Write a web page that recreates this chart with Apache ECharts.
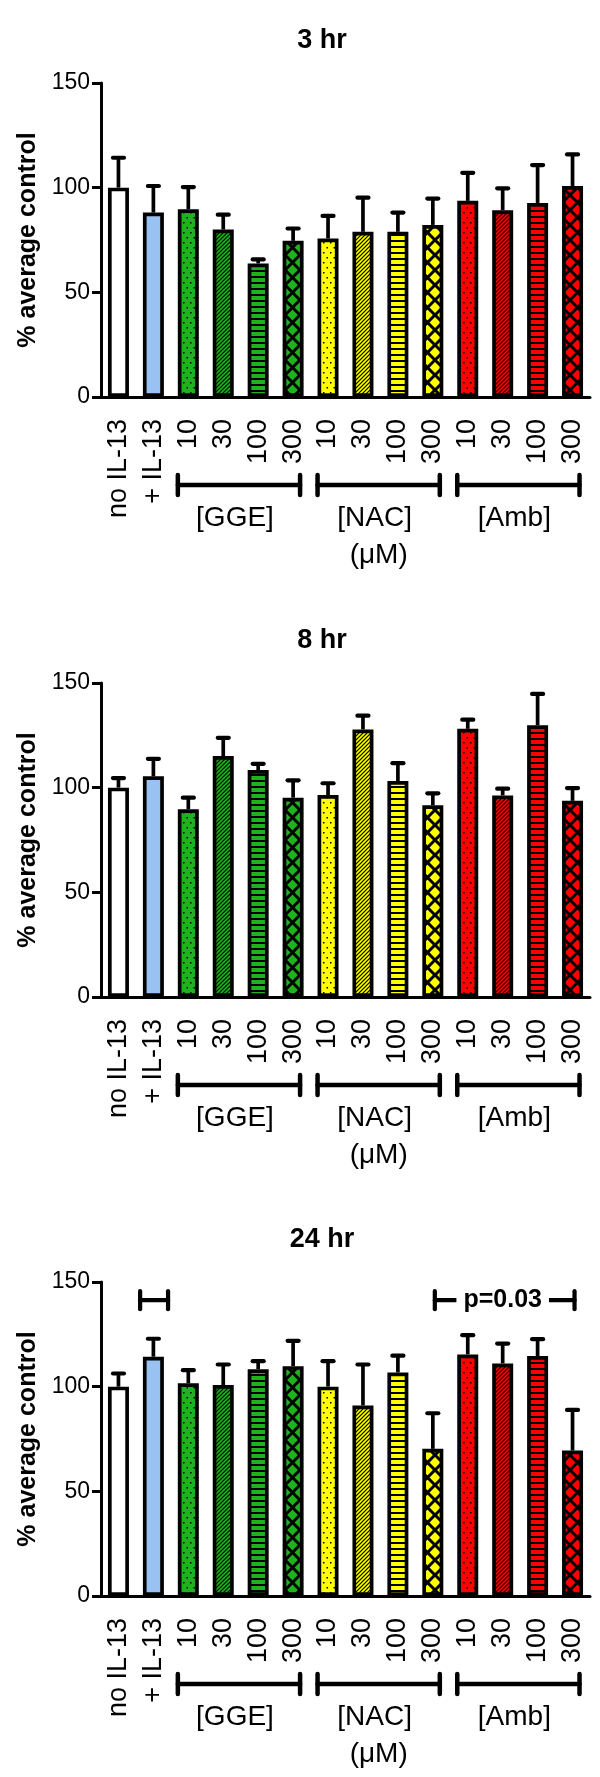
<!DOCTYPE html>
<html><head><meta charset="utf-8">
<script src="https://cdn.jsdelivr.net/npm/echarts@6/dist/echarts.min.js"></script>
<style>html,body{margin:0;padding:0;background:#fff}#c{width:600px;height:1777px}</style>
</head><body><div id="c"></div>
<script>
// ---------- data ----------
const categories = ['no IL-13','+ IL-13','10','30','100','300','10','30','100','300','10','30','100','300'];
const panelTitles = ['3 hr','8 hr','24 hr'];
const mean3   = [100, 88.1, 89.7, 80.0, 63.8, 74.6, 75.7, 78.9, 78.9, 82.2, 93.7, 89.2, 92.7, 100.8];
const upper3  = [114.3, 100.8, 100.3, 87.1, 65.7, 80.5, 86.5, 95.2, 88.1, 94.8, 107.1, 99.7, 110.8, 115.9];
const mean8   = [100, 105.4, 89.7, 115.1, 108.4, 95.2, 96.5, 127.8, 103.2, 91.6, 128.1, 96.3, 129.8, 93.7];
const upper8  = [104.6, 113.8, 95.2, 123.8, 111.4, 103.5, 102.1, 134.4, 111.7, 97.3, 132.5, 99.5, 144.8, 99.8];
const mean24  = [100, 114.3, 101.6, 100.8, 108.3, 109.8, 100, 91.0, 106.8, 70.3, 115.4, 111.1, 114.6, 69.5];
const upper24 = [106.3, 122.9, 107.9, 110.6, 112.2, 121.9, 112.2, 110.6, 114.8, 87.3, 124.6, 120.6, 122.7, 88.9];
const yTicks = [0, 50, 100, 150];
const groupNames = ['[GGE]', '[NAC]', '[Amb]'];
const groupFirst = [2, 6, 10];
const groupLast  = [5, 9, 13];
const unitLabel = '(μM)';
const yAxisTitle = '% average control';
// significance marks on the 24 hr panel
const sigFrom  = [1, 9];
const sigTo    = [1, 13];
const sigValue = [141.3, 141.3];
const sigText  = ['', 'p=0.03'];

// ---------- styles ----------
const GREEN = '#1eb31e', YELLOW = '#ffff00', RED = '#ff0000';
const barColors = ['#ffffff', '#99c2f2', GREEN, GREEN, GREEN, GREEN, YELLOW, YELLOW, YELLOW, YELLOW, RED, RED, RED, RED];
const barPatterns = ['solid','solid','dot','diag','hline','cross','dot','diag','hline','cross','dot','diag','hline','cross'];

function makeFill(bg, kind) {
  if (kind === 'solid') return bg;
  const c = document.createElement('canvas');
  let w = 8, h = 8;
  if (kind === 'dot') { w = 7; h = 10; }
  if (kind === 'diag') { w = 4; h = 4; }
  if (kind === 'hline') { w = 6; h = 6; }
  if (kind === 'cross') { w = 15; h = 15; }
  c.width = w; c.height = h;
  const g = c.getContext('2d');
  g.fillStyle = bg; g.fillRect(0, 0, w, h);
  g.fillStyle = '#000'; g.strokeStyle = '#000';
  if (kind === 'dot') {
    g.fillRect(1, 2, 1.5, 1.5);
    g.fillRect(4.5, 7, 1.5, 1.5);
  } else if (kind === 'diag') {
    g.lineWidth = 1.2;
    g.beginPath();
    g.moveTo(-1, h + 1); g.lineTo(w + 1, -1);
    g.moveTo(-1, 1); g.lineTo(1, -1);
    g.moveTo(w - 1, h + 1); g.lineTo(w + 1, h - 1);
    g.stroke();
  } else if (kind === 'hline') {
    g.fillRect(0, 0, w, 2);
  } else if (kind === 'cross') {
    g.lineWidth = 3;
    g.beginPath();
    g.moveTo(0, 0); g.lineTo(w, h);
    g.moveTo(w, 0); g.lineTo(0, h);
    g.stroke();
  }
  return { image: c, repeat: 'repeat' };
}

const means = [mean3, mean8, mean24];
const uppers = [upper3, upper8, upper24];
const GRID_TOP = [83, 683, 1282];
const GRID_LEFT = 101, GRID_W = 489, GRID_H = 314;
const FONT = '"Liberation Sans", Arial, sans-serif';

const grids = [], xAxes = [], yAxes = [], series = [], titles = [];
for (let p = 0; p < 3; p++) {
  grids.push({ left: GRID_LEFT, top: GRID_TOP[p], width: GRID_W, height: GRID_H, containLabel: false });
  titles.push({
    text: panelTitles[p], left: 317, top: GRID_TOP[p] - 61, textAlign: 'center',
    textStyle: { fontFamily: FONT, fontWeight: 'bold', fontSize: 27, color: '#000' }
  });
  xAxes.push({
    type: 'category', gridIndex: p, data: categories, boundaryGap: true,
    axisLine: { lineStyle: { color: '#000', width: 3 } },
    axisTick: { alignWithLabel: true, length: 7, lineStyle: { color: '#000', width: 3 } },
    axisLabel: {
      interval: 0, rotate: 90, margin: 22, color: '#000', fontFamily: FONT, fontSize: 27,
      padding: [20, 0, 0, 0]
    },
    splitLine: { show: false }
  });
  yAxes.push({
    type: 'value', gridIndex: p, min: yTicks[0], max: yTicks[yTicks.length - 1], interval: yTicks[1] - yTicks[0],
    name: yAxisTitle, nameLocation: 'middle', nameRotate: 90, nameGap: 56,
    nameTextStyle: { fontFamily: FONT, fontWeight: 'bold', fontSize: 25, color: '#000' },
    axisLine: { show: true, lineStyle: { color: '#000', width: 3 } },
    axisTick: { show: true, length: 9, lineStyle: { color: '#000', width: 3 } },
    axisLabel: { margin: 11, color: '#000', fontFamily: FONT, fontSize: 23 },
    splitLine: { show: false }
  });
  series.push({
    type: 'bar', xAxisIndex: p, yAxisIndex: p, barWidth: 21, z: 2,
    data: means[p].map((v, i) => ({
      value: v,
      itemStyle: { color: makeFill(barColors[i], barPatterns[i]), borderColor: '#000', borderWidth: 3.7 }
    })),
    emphasis: { disabled: true }, animation: false
  });
  series.push({
    type: 'custom', xAxisIndex: p, yAxisIndex: p, z: 3, animation: false,
    data: means[p].map((v, i) => [i, v, uppers[p][i]]),
    encode: { x: 0, y: [1, 2] },
    renderItem: function (params, api) {
      const a = api.coord([api.value(0), api.value(1)]);
      const b = api.coord([api.value(0), api.value(2)]);
      return {
        type: 'group', children: [
          { type: 'line', shape: { x1: a[0], y1: a[1], x2: b[0], y2: b[1] }, style: { stroke: '#000', lineWidth: 3.7 } },
          { type: 'line', shape: { x1: b[0] - 5.5, y1: b[1], x2: b[0] + 5.5, y2: b[1] }, style: { stroke: '#000', lineWidth: 4.2, lineCap: 'round' } }
        ]
      };
    }
  });
}
// significance brackets (24 hr)
series.push({
  type: 'custom', xAxisIndex: 2, yAxisIndex: 2, z: 4, animation: false,
  data: sigFrom.map((f, i) => [f, sigTo[i], sigValue[i], i]),
  encode: { x: [0, 1], y: 2 },
  renderItem: function (params, api) {
    const i = api.value(3);
    const a = api.coord([api.value(0), api.value(2)]);
    const b = api.coord([api.value(1), api.value(2)]);
    const step = api.size([1, 0])[0];
    const single = api.value(0) === api.value(1);
    const x1 = single ? a[0] - 0.38 * step : a[0] + 2;
    const x2 = single ? b[0] + 0.42 * step : b[0] + 2;
    const y = a[1];
    const st = { stroke: '#000', lineWidth: 4.2, lineCap: 'round' };
    const ch = [
      { type: 'line', shape: { x1: x1, y1: y, x2: x2, y2: y }, style: st },
      { type: 'line', shape: { x1: x1, y1: y - 9, x2: x1, y2: y + 9 }, style: st },
      { type: 'line', shape: { x1: x2, y1: y - 9, x2: x2, y2: y + 9 }, style: st }
    ];
    if (sigText[i]) {
      const mid = api.coord([(api.value(0) + api.value(1)) / 2 - 0.2, api.value(2)]);
      ch.push({ type: 'text', style: {
        text: sigText[i], x: mid[0], y: y, align: 'center', verticalAlign: 'middle',
        font: 'bold 25px ' + FONT, fill: '#000', backgroundColor: '#fff', padding: [0, 7, 0, 7]
      } });
    }
    return { type: 'group', children: ch };
  }
});

const chart = echarts.init(document.getElementById('c'), null, { renderer: 'canvas', width: 600, height: 1777 });
chart.setOption({
  backgroundColor: '#fff', animation: false,
  title: titles, grid: grids, xAxis: xAxes, yAxis: yAxes, series: series, tooltip: { show: false }
});

// group brackets and labels under each x axis
const gfx = [];
for (let p = 0; p < 3; p++) {
  const y0 = chart.convertToPixel({ yAxisIndex: p }, 0);
  const step = chart.convertToPixel({ xAxisIndex: p }, 1) - chart.convertToPixel({ xAxisIndex: p }, 0);
  for (let g = 0; g < groupNames.length; g++) {
    const xa = chart.convertToPixel({ xAxisIndex: p }, groupFirst[g]) - 0.3 * step;
    const xb = chart.convertToPixel({ xAxisIndex: p }, groupLast[g]) + 0.2 * step;
    const yb = y0 + 88;
    const st = { stroke: '#000', lineWidth: 4.5, lineCap: 'round' };
    gfx.push({ type: 'line', shape: { x1: xa, y1: yb, x2: xb, y2: yb }, style: st });
    gfx.push({ type: 'line', shape: { x1: xa, y1: yb - 10, x2: xa, y2: yb + 10 }, style: st });
    gfx.push({ type: 'line', shape: { x1: xb, y1: yb - 10, x2: xb, y2: yb + 10 }, style: st });
    const cx = (xa + xb) / 2 - 4;
    gfx.push({ type: 'text', x: cx, y: y0 + 121, style: {
      text: groupNames[g], align: 'center', verticalAlign: 'middle', font: '28px ' + FONT, fill: '#000' } });
    if (g === 1) {
      gfx.push({ type: 'text', x: cx + 4, y: y0 + 158, style: {
        text: unitLabel, align: 'center', verticalAlign: 'middle', font: '28px ' + FONT, fill: '#000' } });
    }
  }
}
chart.setOption({ graphic: gfx });
</script></body></html>
